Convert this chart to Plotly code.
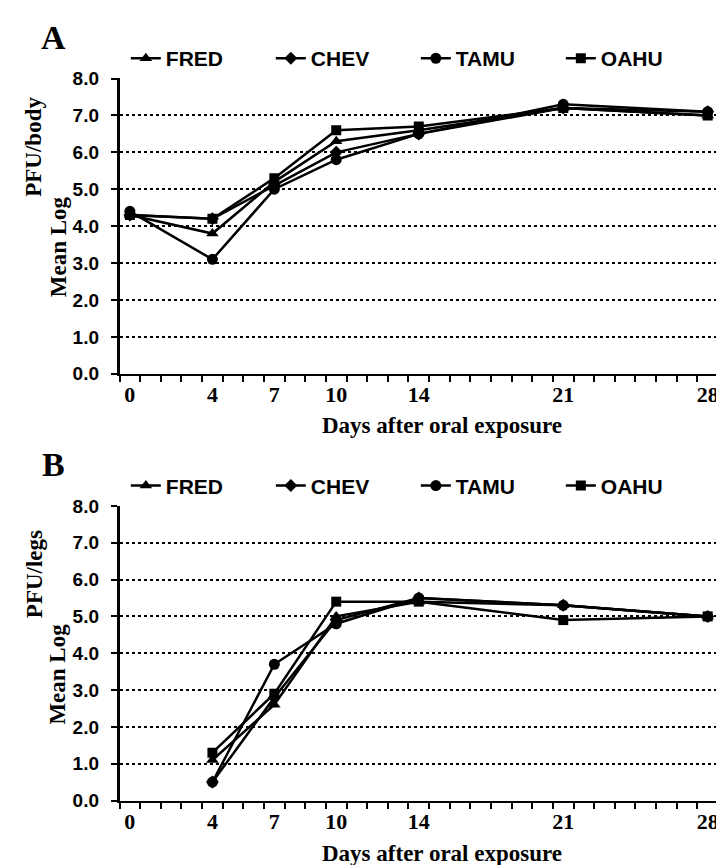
import plotly.graph_objects as go

# ---------------- data ----------------
days = [0, 4, 7, 10, 14, 21, 28]
tick_labels = ["0", "4", "7", "10", "14", "21", "28"]
series_names = ["FRED", "CHEV", "TAMU", "OAHU"]

body_fred = [4.3, 3.8, 5.2, 6.3, 6.6, 7.2, 7.0]
body_chev = [4.3, 4.2, 5.1, 6.0, 6.5, 7.2, 7.1]
body_tamu = [4.4, 3.1, 5.0, 5.8, 6.5, 7.3, 7.1]
body_oahu = [4.3, 4.2, 5.3, 6.6, 6.7, 7.2, 7.0]

legs_days = [4, 7, 10, 14, 21, 28]
legs_fred = [1.1, 2.6, 5.0, 5.4, 5.3, 5.0]
legs_chev = [0.5, 2.8, 4.9, 5.5, 5.3, 5.0]
legs_tamu = [0.5, 3.7, 4.8, 5.5, 5.3, 5.0]
legs_oahu = [1.3, 2.9, 5.4, 5.4, 4.9, 5.0]

y_ticks = [0, 1, 2, 3, 4, 5, 6, 7, 8]

# ---------------- styles ----------------
W, H = 724, 865
symbols = ["triangle-up", "diamond", "circle", "square"]
msizes = [11, 10, 11, 10]
SERIF = "Liberation Serif"
SANS = "Liberation Sans"

fig = go.Figure()

body = [body_fred, body_chev, body_tamu, body_oahu]
legs = [legs_fred, legs_chev, legs_tamu, legs_oahu]

for i, name in enumerate(series_names):
    fig.add_trace(go.Scatter(
        x=days, y=body[i], name=name, mode="lines+markers",
        line=dict(color="black", width=2.5),
        marker=dict(symbol=symbols[i], size=msizes[i], color="black"),
        xaxis="x", yaxis="y", legend="legend"))
for i, name in enumerate(series_names):
    fig.add_trace(go.Scatter(
        x=legs_days, y=legs[i], name=name, mode="lines+markers",
        line=dict(color="black", width=2.5),
        marker=dict(symbol=symbols[i], size=msizes[i], color="black"),
        xaxis="x2", yaxis="y2", legend="legend2"))

xdom = [111.7 / W, 711 / W]
ydomA = [1 - 364.6 / H, 1 - 62 / H]
ydomB = [1 - 802 / H, 1 - 500 / H]


def xaxis_def(anchor):
    return dict(
        domain=xdom, anchor=anchor, range=[-0.5, 28.5],
        showline=True, linecolor="black", linewidth=2,
        tickmode="array", tickvals=days, ticktext=tick_labels, ticks="",
        ticklabeloverflow="allow",
        tickfont=dict(family=SERIF, size=22, color="black", weight="bold"),
        minor=dict(ticks="outside", tickmode="linear", tick0=-0.5, dtick=1,
                   ticklen=6, tickwidth=2, tickcolor="black", showgrid=False),
        showgrid=False, zeroline=False, fixedrange=True)


def yaxis_def(anchor, dom):
    return dict(
        domain=dom, anchor=anchor, range=[0, 8.001],
        tickmode="array", tickvals=y_ticks, tickformat=".1f",
        ticks="outside", ticklen=6, tickwidth=2, tickcolor="black",
        ticklabelstandoff=8,
        showline=True, linecolor="black", linewidth=2.5,
        showgrid=True, gridcolor="black", griddash="dot", gridwidth=1.5,
        zeroline=False,
        tickfont=dict(family=SANS, size=19, color="black", weight="bold"),
        fixedrange=True)


legend_common = dict(
    orientation="h", xanchor="left", yanchor="middle",
    font=dict(family=SANS, size=21, color="black", weight="bold"),
    bgcolor="rgba(0,0,0,0)", itemwidth=30, entrywidth=100,
    entrywidthmode="pixels", tracegroupgap=0)

fig.update_layout(
    width=W, height=H, margin=dict(l=0, r=0, t=0, b=0),
    paper_bgcolor="white", plot_bgcolor="white",
    showlegend=True,
    xaxis=xaxis_def("y"), yaxis=yaxis_def("x", ydomA),
    xaxis2=xaxis_def("y2"), yaxis2=yaxis_def("x2", ydomB),
    legend=dict(x=118 / W, y=1 - 41.6 / H, **legend_common),
    legend2=dict(x=118 / W, y=1 - 479.6 / H, **legend_common),
)

annots = []
for dy, letter, unit in [(0, "A", "PFU/body"), (438, "B", "PFU/legs")]:
    annots.append(dict(text=letter, x=46 / W, y=1 - (20 + dy) / H, xref="paper", yref="paper",
                       showarrow=False, xanchor="center", yanchor="middle",
                       font=dict(family=SERIF, size=34, color="black", weight="bold")))
    annots.append(dict(text=unit, x=26 / W, y=1 - (132 + dy) / H, xref="paper", yref="paper",
                       showarrow=False, xanchor="center", yanchor="middle", textangle=-90,
                       font=dict(family=SERIF, size=23, color="black", weight="bold")))
    annots.append(dict(text="Mean Log", x=50 / W, y=1 - (234 + dy) / H, xref="paper", yref="paper",
                       showarrow=False, xanchor="center", yanchor="middle", textangle=-90,
                       font=dict(family=SERIF, size=23, color="black", weight="bold")))
    annots.append(dict(text="Days after oral exposure", x=435 / W, y=1 - (418 + dy) / H,
                       xref="paper", yref="paper", showarrow=False,
                       xanchor="center", yanchor="middle",
                       font=dict(family=SERIF, size=23, color="black", weight="bold")))
fig.update_layout(annotations=annots)

fig.write_html("out.html")
